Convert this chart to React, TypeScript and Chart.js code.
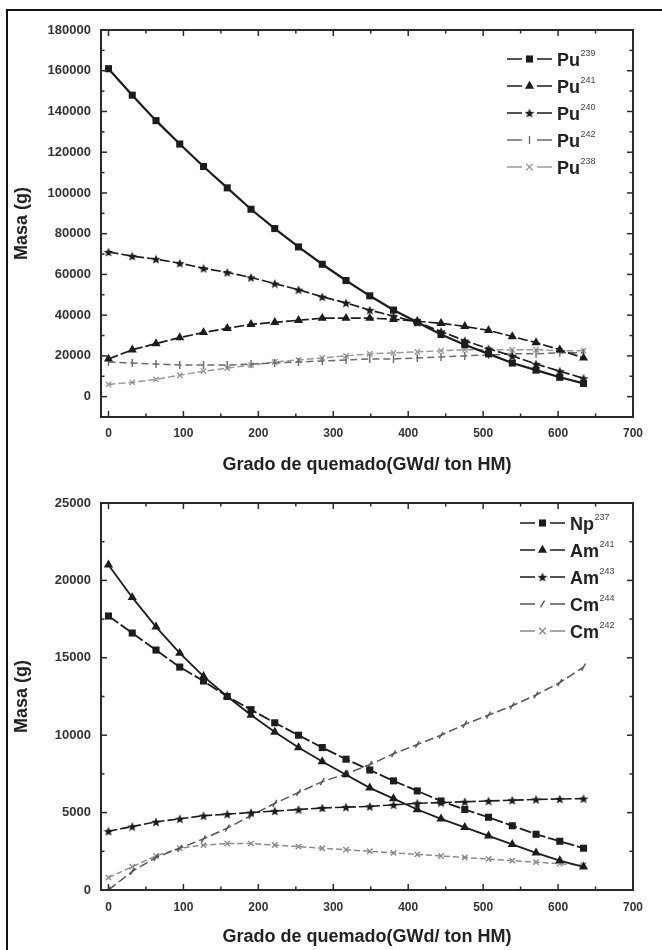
import React, { useEffect, useRef } from "react";
import { Chart, registerables } from "chart.js";

Chart.register(...registerables);

// ---------- DATA ----------
const burnup = [0, 31.7, 63.4, 95.1, 126.8, 158.5, 190.2, 221.9, 253.6, 285.3, 317, 348.7, 380.4, 412.1, 443.8, 475.5, 507.2, 538.9, 570.6, 602.3, 634];

const pu239 = [161000, 148000, 135500, 124000, 113000, 102500, 92000, 82500, 73500, 65000, 57000, 49500, 42500, 36500, 30500, 25500, 21000, 16500, 13000, 9500, 6500];
const pu241 = [18500, 23000, 26000, 29000, 31500, 33500, 35500, 36500, 37500, 38500, 38500, 38500, 38000, 37000, 36000, 34500, 32500, 29500, 26500, 23000, 19000];
const pu240 = [71000, 69000, 67500, 65500, 63000, 61000, 58500, 55500, 52500, 49000, 46000, 42500, 39500, 36500, 32000, 27500, 23500, 20000, 16000, 12500, 9000];
const pu242 = [17000, 16500, 16000, 15500, 15500, 15500, 16000, 16500, 17000, 17500, 18000, 18500, 18500, 19000, 19500, 20000, 20500, 21000, 21000, 21500, 21500];
const pu238 = [6000, 7000, 8500, 10500, 12500, 14000, 15500, 17000, 18000, 19000, 20000, 21000, 21500, 22000, 22500, 23000, 23000, 23000, 23000, 22500, 22500];

const np237 = [17700, 16600, 15500, 14400, 13500, 12500, 11650, 10800, 10000, 9200, 8450, 7750, 7050, 6400, 5750, 5200, 4700, 4150, 3600, 3150, 2700];
const am241 = [21000, 18900, 17000, 15300, 13800, 12500, 11300, 10200, 9200, 8300, 7450, 6600, 5900, 5200, 4600, 4050, 3500, 2950, 2400, 1900, 1500];
const am243 = [3800, 4100, 4400, 4600, 4800, 4900, 5000, 5100, 5200, 5300, 5350, 5400, 5500, 5600, 5650, 5700, 5750, 5800, 5850, 5880, 5900];
const cm244 = [0, 1200, 2100, 2700, 3300, 4000, 4800, 5600, 6300, 7000, 7500, 8100, 8800, 9400, 10000, 10700, 11300, 11900, 12600, 13400, 14400];
const cm242 = [800, 1500, 2200, 2700, 2900, 3000, 3000, 2900, 2800, 2700, 2600, 2500, 2400, 2300, 2200, 2100, 2000, 1900, 1800, 1700, 1600];

const topNames = ["Pu", "Pu", "Pu", "Pu", "Pu"];
const topSups = ["239", "241", "240", "242", "238"];
const bottomNames = ["Np", "Am", "Am", "Cm", "Cm"];
const bottomSups = ["237", "241", "243", "244", "242"];

const xTickValues = [0, 100, 200, 300, 400, 500, 600, 700];
const xMinorValues = [50, 150, 250, 350, 450, 550, 650];
const yTicksTop = [0, 20000, 40000, 60000, 80000, 100000, 120000, 140000, 160000, 180000];
const yMinorTop = [-10000, 10000, 30000, 50000, 70000, 90000, 110000, 130000, 150000, 170000];
const yTicksBottom = [0, 5000, 10000, 15000, 20000, 25000];
const yMinorBottom = [2500, 7500, 12500, 17500, 22500];

const xTitle = "Grado de quemado(GWd/ ton HM)";
const yTitle = "Masa (g)";

// ---------- STYLE ----------
const FONT = "'Liberation Sans', Arial, sans-serif";
const DARK = "#1c1c1c";

type Style = { color: string; width: number; dash: number[]; marker: string; r: number; rot?: number };

const topStyles: Style[] = [
  { color: DARK, width: 2.2, dash: [], marker: "rect", r: 5 },
  { color: DARK, width: 1.7, dash: [10, 3], marker: "triangle", r: 5.3 },
  { color: DARK, width: 1.7, dash: [10, 3], marker: "star", r: 5 },
  { color: "#6a6a6a", width: 1.5, dash: [7, 4], marker: "line", r: 4, rot: 90 },
  { color: "#9a9a9a", width: 1.5, dash: [7, 3], marker: "crossRot", r: 3.8 },
];
const bottomStyles: Style[] = [
  { color: DARK, width: 1.8, dash: [12, 3], marker: "rect", r: 5 },
  { color: DARK, width: 1.8, dash: [], marker: "triangle", r: 5.3 },
  { color: DARK, width: 1.6, dash: [9, 3], marker: "star", r: 5 },
  { color: "#555555", width: 1.5, dash: [9, 4], marker: "line", r: 4, rot: -60 },
  { color: "#8a8a8a", width: 1.5, dash: [6, 3], marker: "crossRot", r: 3.8 },
];

function makeStar(size: number, color: string) {
  const c = document.createElement("canvas");
  c.width = size;
  c.height = size;
  const ctx = c.getContext("2d")!;
  ctx.fillStyle = color;
  ctx.beginPath();
  const cx = size / 2, cy = size / 2 + 0.5, R = size / 2, r = R * 0.45;
  for (let i = 0; i < 10; i++) {
    const a = -Math.PI / 2 + (i * Math.PI) / 5;
    const rad = i % 2 === 0 ? R : r;
    ctx.lineTo(cx + rad * Math.cos(a), cy + rad * Math.sin(a));
  }
  ctx.closePath();
  ctx.fill();
  return c;
}

function drawMarker(ctx: CanvasRenderingContext2D, s: Style, x: number, y: number, star: HTMLCanvasElement) {
  ctx.save();
  ctx.fillStyle = s.color;
  ctx.strokeStyle = s.color;
  ctx.lineWidth = 1.4;
  ctx.setLineDash([]);
  const r = s.r;
  if (s.marker === "rect") {
    const h = r * Math.SQRT1_2;
    ctx.fillRect(x - h, y - h, 2 * h, 2 * h);
  } else if (s.marker === "triangle") {
    ctx.beginPath();
    ctx.moveTo(x, y - r);
    ctx.lineTo(x + r * 0.866, y + r * 0.5);
    ctx.lineTo(x - r * 0.866, y + r * 0.5);
    ctx.closePath();
    ctx.fill();
  } else if (s.marker === "star") {
    ctx.drawImage(star, x - star.width / 2, y - star.height / 2);
  } else if (s.marker === "line") {
    const a = ((s.rot || 0) * Math.PI) / 180;
    ctx.beginPath();
    ctx.moveTo(x - Math.cos(a) * r, y - Math.sin(a) * r);
    ctx.lineTo(x + Math.cos(a) * r, y + Math.sin(a) * r);
    ctx.stroke();
  } else if (s.marker === "crossRot") {
    const d = r * 0.85;
    ctx.beginPath();
    ctx.moveTo(x - d, y - d);
    ctx.lineTo(x + d, y + d);
    ctx.moveTo(x + d, y - d);
    ctx.lineTo(x - d, y + d);
    ctx.stroke();
  }
  ctx.restore();
}

const boxTicksPlugin = {
  id: "boxTicks",
  afterDraw(chart: any, _args: any, opts: any) {
    const { ctx, chartArea } = chart;
    const { left, right, top, bottom } = chartArea;
    const x = chart.scales.x;
    const y = chart.scales.y;
    ctx.save();
    ctx.strokeStyle = "#2a2a2a";
    ctx.lineWidth = 2;
    ctx.setLineDash([]);
    ctx.strokeRect(left, top, right - left, bottom - top);
    ctx.lineWidth = 1.5;
    const seg = (x1: number, y1: number, x2: number, y2: number) => {
      ctx.beginPath();
      ctx.moveTo(x1, y1);
      ctx.lineTo(x2, y2);
      ctx.stroke();
    };
    const xt = (vals: number[], len: number) => {
      vals.forEach((v) => {
        const px = x.getPixelForValue(v);
        seg(px, bottom, px, bottom - len);
        seg(px, top, px, top + len);
      });
    };
    const yt = (vals: number[], len: number) => {
      vals.forEach((v) => {
        const py = y.getPixelForValue(v);
        if (py < top - 0.5 || py > bottom + 0.5) return;
        seg(left, py, left + len, py);
        seg(right, py, right - len, py);
      });
    };
    xt(opts.xMajor, 6);
    xt(opts.xMinor, 3.5);
    yt(opts.yMajor, 6);
    yt(opts.yMinor, 3.5);
    ctx.restore();
  },
};

const customLegendPlugin = {
  id: "customLegend",
  afterDraw(chart: any, _args: any, opts: any) {
    const { ctx, chartArea } = chart;
    const x0 = chartArea.right - opts.fromRight;
    ctx.save();
    opts.names.forEach((name: string, i: number) => {
      const s: Style = opts.styles[i];
      const yy = chartArea.top + opts.firstRow + i * opts.rowGap;
      ctx.strokeStyle = s.color;
      ctx.lineWidth = 1.6;
      ctx.setLineDash([]);
      ctx.beginPath();
      ctx.moveTo(x0, yy);
      ctx.lineTo(x0 + 15, yy);
      ctx.moveTo(x0 + 30, yy);
      ctx.lineTo(x0 + 45, yy);
      ctx.stroke();
      drawMarker(ctx, s, x0 + 22.5, yy, opts.star);
      ctx.fillStyle = "#222";
      ctx.font = `bold 18px ${FONT}`;
      ctx.textBaseline = "alphabetic";
      ctx.textAlign = "left";
      ctx.fillText(name, x0 + 50, yy + 7);
      const w = ctx.measureText(name).width;
      ctx.font = `9px ${FONT}`;
      ctx.fillStyle = "#444";
      ctx.fillText(opts.sups[i], x0 + 50 + w + 0.5, yy - 3);
    });
    ctx.restore();
  },
};

function makeConfig(p: {
  series: number[][];
  styles: Style[];
  names: string[];
  sups: string[];
  yMin: number;
  yMax: number;
  yTicks: number[];
  yMinor: number[];
  padTop: number;
  xAxisH: number;
  xLabelPad: number;
  xTitlePadBottom: number;
  legendFromRight: number;
  legendFirstRow: number;
  star: HTMLCanvasElement;
}): any {
  const tickColor = "#333";
  return {
    type: "line",
    data: {
      datasets: p.series.map((arr, i) => {
        const s = p.styles[i];
        return {
          label: p.names[i] + p.sups[i],
          data: burnup.map((bx, j) => ({ x: bx, y: arr[j] })),
          borderColor: s.color,
          backgroundColor: s.color,
          borderWidth: s.width,
          borderDash: s.dash,
          tension: 0,
          fill: false,
          pointStyle: s.marker === "star" ? p.star : s.marker,
          pointRotation: s.rot || 0,
          pointRadius: s.r,
          pointBorderWidth: s.marker === "line" || s.marker === "crossRot" ? 1.4 : 0,
          pointBorderColor: s.color,
          pointBackgroundColor: s.color,
        };
      }),
    },
    options: {
      animation: false,
      responsive: false,
      devicePixelRatio: 1,
      events: [],
      layout: { padding: { left: 0, right: 29, top: p.padTop, bottom: 0 } },
      plugins: {
        legend: { display: false },
        tooltip: { enabled: false },
        boxTicks: { xMajor: xTickValues, xMinor: xMinorValues, yMajor: p.yTicks, yMinor: p.yMinor },
        customLegend: {
          names: p.names,
          sups: p.sups,
          styles: p.styles,
          star: p.star,
          fromRight: p.legendFromRight,
          firstRow: p.legendFirstRow,
          rowGap: 27,
        },
      },
      scales: {
        x: {
          type: "linear",
          min: -10,
          max: 700,
          afterBuildTicks: (s: any) => {
            s.ticks = xTickValues.map((v) => ({ value: v }));
          },
          afterFit: (s: any) => {
            s.height = p.xAxisH;
          },
          grid: { display: false, drawTicks: false },
          border: { display: false },
          ticks: {
            color: tickColor,
            font: { family: FONT, size: 12, weight: "bold" },
            padding: p.xLabelPad,
            maxRotation: 0,
            autoSkip: false,
            callback: (v: any) => String(v),
          },
          title: {
            display: true,
            text: xTitle,
            color: "#222",
            font: { family: FONT, size: 18, weight: "bold" },
            padding: { top: 0, bottom: p.xTitlePadBottom },
          },
        },
        y: {
          type: "linear",
          min: p.yMin,
          max: p.yMax,
          afterBuildTicks: (s: any) => {
            s.ticks = p.yTicks.map((v) => ({ value: v }));
          },
          afterFit: (s: any) => {
            s.width = 101;
          },
          grid: { display: false, drawTicks: false },
          border: { display: false },
          ticks: {
            color: tickColor,
            font: { family: FONT, size: 13, weight: "bold" },
            padding: 10,
            autoSkip: false,
            callback: (v: any) => String(v),
          },
          title: {
            display: true,
            text: yTitle,
            color: "#222",
            font: { family: FONT, size: 18, weight: "bold" },
            padding: { top: 11, bottom: 0 },
          },
        },
      },
    },
    plugins: [boxTicksPlugin, customLegendPlugin],
  };
}

export default function App() {
  const topRef = useRef<HTMLCanvasElement>(null);
  const botRef = useRef<HTMLCanvasElement>(null);

  useEffect(() => {
    const star = makeStar(10, DARK);
    const c1 = new Chart(
      topRef.current!,
      makeConfig({
        series: [pu239, pu241, pu240, pu242, pu238],
        styles: topStyles,
        names: topNames,
        sups: topSups,
        yMin: -10000,
        yMax: 180000,
        yTicks: yTicksTop,
        yMinor: yMinorTop,
        padTop: 30,
        xAxisH: 63,
        xLabelPad: 9,
        xTitlePadBottom: 4.2,
        legendFromRight: 126,
        legendFirstRow: 29,
        star,
      })
    );
    const c2 = new Chart(
      botRef.current!,
      makeConfig({
        series: [np237, am241, am243, cm244, cm242],
        styles: bottomStyles,
        names: bottomNames,
        sups: bottomSups,
        yMin: 0,
        yMax: 25000,
        yTicks: yTicksBottom,
        yMinor: yMinorBottom,
        padTop: 23,
        xAxisH: 60,
        xLabelPad: 10,
        xTitlePadBottom: 2.2,
        legendFromRight: 113,
        legendFirstRow: 20,
        star,
      })
    );
    return () => {
      c1.destroy();
      c2.destroy();
    };
  }, []);

  return (
    <div style={{ position: "absolute", left: 0, top: 0, width: 662, height: 950, background: "#fff", overflow: "hidden" }}>
      <canvas ref={topRef} width={662} height={480} style={{ position: "absolute", left: 0, top: 0, width: 662, height: 480 }} />
      <canvas ref={botRef} width={662} height={470} style={{ position: "absolute", left: 0, top: 480, width: 662, height: 470 }} />
      <div
        style={{
          position: "absolute",
          left: 6,
          top: 9,
          width: 700,
          height: 1000,
          borderLeft: "2px solid #111",
          borderTop: "2px solid #111",
          pointerEvents: "none",
        }}
      />
    </div>
  );
}
